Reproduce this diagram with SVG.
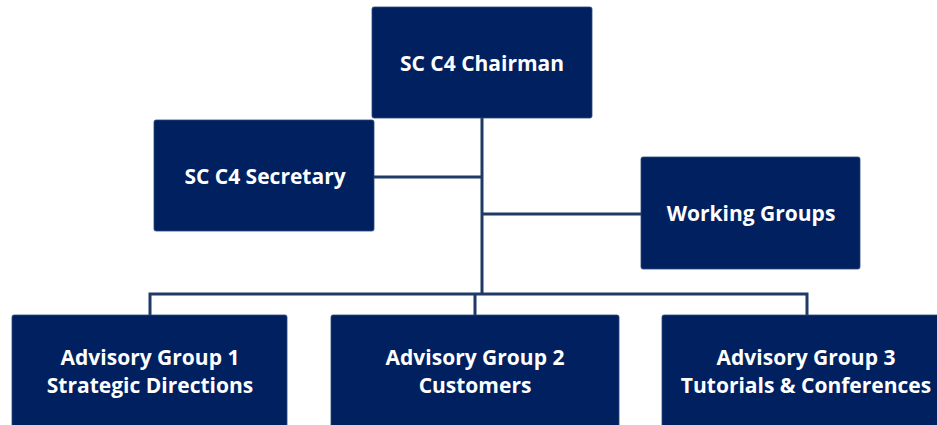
<svg xmlns="http://www.w3.org/2000/svg" width="937" height="425" viewBox="0 0 937 425">
<style>
.box{fill:#002060;stroke:#2a4a7a;stroke-width:0.8}
.lbl{fill:#ffffff;font-family:"Open Sans","Liberation Sans",sans-serif;font-weight:bold;font-size:21px;text-anchor:middle}
.conn{stroke:#1f3a64;stroke-width:3;fill:none}
</style>
<rect width="937" height="425" fill="#ffffff"/>
<g id="connectors">
<path class="conn" d="M482 118 V294"/>
<path class="conn" d="M374 177 H482"/>
<path class="conn" d="M482 214 H641"/>
<path class="conn" d="M150 315 V294 H807 V315"/>
<path class="conn" d="M475 294 V315"/>
</g>
<g id="chairman"><rect class="box" x="372" y="7" width="220" height="111" rx="2"/><text class="lbl" x="482" y="71">SC C4 Chairman</text></g>
<g id="secretary"><rect class="box" x="154" y="120" width="220" height="111" rx="2"/><text class="lbl" x="265" y="184">SC C4 Secretary</text></g>
<g id="working-groups"><rect class="box" x="641" y="157" width="219" height="112" rx="2"/><text class="lbl" x="751" y="221">Working Groups</text></g>
<g id="ag1"><rect class="box" x="12" y="315" width="275" height="120" rx="2"/><text class="lbl" x="150" y="365">Advisory Group 1</text><text class="lbl" x="150" y="393">Strategic Directions</text></g>
<g id="ag2"><rect class="box" x="331" y="315" width="288" height="120" rx="2"/><text class="lbl" x="475" y="365">Advisory Group 2</text><text class="lbl" x="475" y="393">Customers</text></g>
<g id="ag3"><rect class="box" x="662" y="315" width="288" height="120" rx="2"/><text class="lbl" x="806" y="365">Advisory Group 3</text><text class="lbl" x="806" y="393">Tutorials &amp; Conferences</text></g>
</svg>
